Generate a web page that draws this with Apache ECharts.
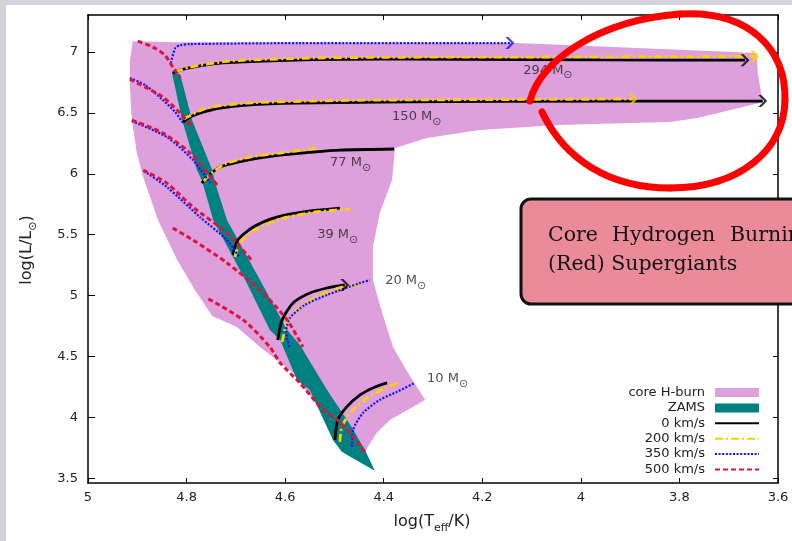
<!DOCTYPE html>
<html><head><meta charset="utf-8">
<script src="https://cdn.jsdelivr.net/npm/echarts@6/dist/echarts.min.js"></script>
<style>html,body{margin:0;padding:0;background:#fff}#c{width:792px;height:541px}</style>
</head><body><div id="c"></div>
<script>
// ---- ticks ----
const xTickValues = [3.6, 3.8, 4.0, 4.2, 4.4, 4.6, 4.8, 5.0];
const yTickValues = [3.5, 4, 4.5, 5, 5.5, 6, 6.5, 7];
const legendNames = ['core H-burn', 'ZAMS', '0 km/s', '200 km/s', '350 km/s', '500 km/s'];
const masses = ['294', '150', '77', '39', '20', '10'];

// ---- regions [logTeff, logL] ----
const coreHBurn = [[4.909,7.090],[4.823,7.082],[4.130,7.074],[3.643,6.992],[3.641,6.828],[3.631,6.589],[3.764,6.458],[3.819,6.425],[4.048,6.401],[4.205,6.360],[4.312,6.294],[4.377,6.212],[4.383,5.949],[4.408,5.678],[4.422,5.399],[4.422,5.128],[4.403,4.857],[4.381,4.578],[4.351,4.365],[4.316,4.143],[4.341,4.085],[4.387,3.979],[4.414,3.872],[4.432,3.757],[4.438,3.716],[4.489,3.814],[4.544,4.143],[4.584,4.365],[4.651,4.578],[4.698,4.742],[4.748,4.833],[4.783,5.046],[4.819,5.292],[4.858,5.621],[4.888,5.974],[4.901,6.171],[4.911,6.442],[4.915,6.713],[4.915,6.934]];
const zams = [[4.830,6.836],[4.809,6.442],[4.779,6.031],[4.769,5.949],[4.746,5.621],[4.681,5.128],[4.631,4.718],[4.610,4.635],[4.576,4.307],[4.550,4.225],[4.503,3.814],[4.485,3.716],[4.468,3.675],[4.418,3.560],[4.438,3.732],[4.468,3.938],[4.515,4.225],[4.570,4.594],[4.596,4.718],[4.651,5.128],[4.718,5.621],[4.742,5.924],[4.748,6.031],[4.789,6.442],[4.813,6.819]];

// ---- tracks: v<rotation>_m<mass> ----
const v0_m294 = [[4.828,6.828],[4.813,6.852],[4.787,6.877],[4.732,6.910],[4.645,6.926],[4.544,6.938],[4.408,6.943],[4.266,6.940],[3.961,6.936],[3.667,6.934]];
const v200_m294 = [[4.823,6.836],[4.793,6.877],[4.712,6.926],[4.544,6.951],[4.408,6.957],[4.063,6.960],[3.647,6.965]];
const v350_m294 = [[4.832,6.910],[4.823,7.033],[4.813,7.057],[4.793,7.066],[4.570,7.074],[4.144,7.074]];
const v500_m294 = [[4.899,7.090],[4.868,7.041],[4.844,6.975],[4.828,6.877],[4.813,6.787]];

const v0_m150 = [[4.807,6.425],[4.793,6.466],[4.773,6.499],[4.732,6.540],[4.677,6.565],[4.576,6.581],[4.408,6.589],[4.164,6.595],[3.631,6.598]];
const v200_m150 = [[4.805,6.450],[4.799,6.466],[4.759,6.540],[4.677,6.581],[4.544,6.598],[4.408,6.606],[3.894,6.614]];
const v350_m150 = [[4.915,6.787],[4.884,6.729],[4.848,6.606],[4.823,6.507],[4.807,6.417]];
const v500_m150 = [[4.915,6.778],[4.880,6.704],[4.848,6.631],[4.813,6.499],[4.787,6.376]];

const v0_m77 = [[4.769,5.924],[4.759,5.974],[4.732,6.056],[4.677,6.113],[4.610,6.154],[4.544,6.179],[4.489,6.195],[4.379,6.204]];
const v200_m77 = [[4.765,5.941],[4.752,5.998],[4.722,6.080],[4.671,6.138],[4.610,6.171],[4.537,6.212]];
const v350_m77 = [[4.911,6.433],[4.840,6.302],[4.787,6.113],[4.752,5.924]];
const v500_m77 = [[4.911,6.442],[4.848,6.335],[4.793,6.171],[4.738,5.908]];

const v0_m39 = [[4.706,5.333],[4.696,5.456],[4.665,5.563],[4.617,5.645],[4.550,5.695],[4.489,5.719]];
const v200_m39 = [[4.702,5.317],[4.692,5.432],[4.661,5.539],[4.610,5.629],[4.539,5.687],[4.468,5.711]];
const v350_m39 = [[4.886,6.023],[4.840,5.892],[4.773,5.645],[4.718,5.456],[4.692,5.309]];
const v500_m39 = [[4.888,6.031],[4.840,5.924],[4.787,5.727],[4.718,5.514],[4.665,5.276]];

const v0_m20 = [[4.615,4.635],[4.606,4.800],[4.584,4.939],[4.550,5.021],[4.515,5.062],[4.479,5.087]];
const v200_m20 = [[4.606,4.619],[4.596,4.775],[4.570,4.906],[4.529,5.005],[4.483,5.071],[4.448,5.087]];
const v350_m20 = [[4.592,4.578],[4.598,4.701],[4.590,4.816],[4.560,4.923],[4.515,5.005],[4.448,5.103],[4.428,5.128]];
const v500_m20 = [[4.828,5.555],[4.787,5.456],[4.718,5.268],[4.651,5.046],[4.596,4.800],[4.564,4.578]];

const v0_m10 = [[4.499,3.814],[4.493,3.979],[4.475,4.085],[4.448,4.184],[4.422,4.241],[4.393,4.282]];
const v200_m10 = [[4.489,3.798],[4.485,3.921],[4.468,4.036],[4.434,4.159],[4.401,4.233],[4.371,4.282]];
const v350_m10 = [[4.464,3.757],[4.462,3.897],[4.442,4.036],[4.408,4.143],[4.373,4.209],[4.337,4.282]];
const v500_m10 = [[4.438,3.716],[4.489,3.962],[4.523,4.061],[4.570,4.282],[4.610,4.446],[4.631,4.578],[4.685,4.800],[4.759,4.980]];

// label anchors (left-middle of each mass label)
const massLabelX = [4.117, 4.383, 4.509, 4.535, 4.397, 4.312];
const massLabelY = [6.852, 6.466, 6.089, 5.498, 5.120, 4.315];

// ---- build ----
const styles = {
  '0 km/s':   {color:'#000000', width:2.8, type:'solid'},
  '200 km/s': {color:'#ffd000', width:2.8, type:[8,3,2,3]},
  '350 km/s': {color:'#1010ff', width:2.2, type:[2,1.6]},
  '500 km/s': {color:'#dc143c', width:3, type:[5,3]}
};
const tracks = {
  '0 km/s':   [v0_m294, v0_m150, v0_m77, v0_m39, v0_m20, v0_m10],
  '200 km/s': [v200_m294, v200_m150, v200_m77, v200_m39, v200_m20, v200_m10],
  '350 km/s': [v350_m294, v350_m150, v350_m77, v350_m39, v350_m20, v350_m10],
  '500 km/s': [v500_m294, v500_m150, v500_m77, v500_m39, v500_m20, v500_m10]
};
const arrowTracks = [[v0_m294,'0 km/s'],[v200_m294,'200 km/s'],[v350_m294,'350 km/s'],[v0_m150,'0 km/s'],[v200_m150,'200 km/s'],[v0_m20,'0 km/s']];

function polySeries(name, pts, color, z) {
  return {
    type:'custom', name:name, z:z, clip:true, silent:true,
    itemStyle:{color:color},
    data: pts,
    renderItem: function(params, api) {
      if (params.dataIndex !== 0) return null;
      return {type:'polygon', shape:{points: pts.map(p => api.coord(p))}, style:{fill:color}};
    }
  };
}

const series = [];
series.push(polySeries('core H-burn', coreHBurn, '#dda0dc', 1));
series.push(polySeries('ZAMS', zams, '#008080', 2));
Object.keys(tracks).forEach((v, vi) => {
  tracks[v].forEach(arr => {
    series.push({
      type:'line', name:v, data:arr, symbol:'none', smooth:0.25, z:3+vi, silent:true,
      lineStyle:{color:styles[v].color, width:styles[v].width, type:styles[v].type, cap:'butt'},
      itemStyle:{color:styles[v].color}
    });
  });
});
const chevron = 'path://M0,0 L4,0 L12,7 L4,14 L0,14 L8,7 Z';
arrowTracks.forEach(([arr, v]) => {
  series.push({
    type:'scatter', name:'arrow', z:8, silent:true,
    data:[arr[arr.length-1]], symbol:chevron, symbolSize:[9,12],
    itemStyle:{color:styles[v].color}
  });
});
series.push({
  type:'scatter', name:'labels', z:9, silent:true, symbolSize:0,
  data: masses.map((m,i) => [massLabelX[i], massLabelY[i], m]),
  label:{
    show:true, position:'right', distance:0,
    formatter: p => '{n|' + p.value[2] + ' M}{s|\u2299}',
    rich:{
      n:{fontSize:13, fontFamily:'DejaVu Sans', color:'#222', lineHeight:22, verticalAlign:'middle'},
      s:{fontSize:11, fontFamily:'DejaVu Sans', color:'#222', verticalAlign:'bottom'}
    }
  }
});

const axisFont = {fontSize:13, fontFamily:'DejaVu Sans', color:'#222'};
const lineBlack = {color:'#000', width:1.5};
const ellipse = [
  [530,101, 540,60, 600,20, 680,14],
  [680,14, 750,10, 786,50, 785,100],
  [785,100, 784,150, 740,188, 670,188],
  [670,188, 610,188, 565,160, 542,112]
].map(c => ({type:'bezierCurve', z:102, silent:true,
  shape:{x1:c[0], y1:c[1], cpx1:c[2], cpy1:c[3], cpx2:c[4], cpy2:c[5], x2:c[6], y2:c[7]},
  style:{fill:null, stroke:'#ff0000', lineWidth:7, lineCap:'round'}}));

const noSym = {opacity:0};
const option = {
  backgroundColor:'#ffffff',
  animation:false,
  grid:{left:88, right:14, top:15, bottom:58},
  xAxis:[
    {type:'value', min:3.6, max:5, interval:0.2, inverse:true, position:'bottom',
     axisLine:{onZero:false, lineStyle:lineBlack},
     axisTick:{inside:true, length:5, lineStyle:{color:'#000'}},
     axisLabel:Object.assign({margin:8, showMinLabel:true, showMaxLabel:true,
       formatter: v => String(Math.round(v*10)/10)}, axisFont),
     splitLine:{show:false}},
    {type:'value', min:3.6, max:5, interval:0.2, inverse:true, position:'top',
     axisLine:{onZero:false, lineStyle:lineBlack},
     axisTick:{inside:true, length:5, lineStyle:{color:'#000'}},
     axisLabel:{show:false}, splitLine:{show:false}}
  ],
  yAxis:[
    {type:'value', min:3.46, max:7.305, position:'left',
     axisLine:{onZero:false, lineStyle:lineBlack},
     axisTick:{inside:true, length:7, customValues:yTickValues, lineStyle:{color:'#000'}},
     axisLabel:Object.assign({margin:10, customValues:yTickValues}, axisFont),
     splitLine:{show:false}},
    {type:'value', min:3.46, max:7.305, position:'right',
     axisLine:{onZero:false, lineStyle:lineBlack},
     axisTick:{inside:true, length:5, customValues:yTickValues, lineStyle:{color:'#000'}},
     axisLabel:{show:false}, splitLine:{show:false}}
  ],
  legend:{
    orient:'vertical', right:27, top:381, align:'right', selectedMode:false,
    itemWidth:44, itemHeight:9, itemGap:2.4,
    textStyle:{fontSize:13, fontFamily:'DejaVu Sans', color:'#222', lineHeight:13, padding:[0,5,0,0]},
    data:[
      {name:'core H-burn', icon:'rect'},
      {name:'ZAMS', icon:'rect'},
      {name:'0 km/s', itemStyle:noSym}, {name:'200 km/s', itemStyle:noSym},
      {name:'350 km/s', itemStyle:noSym}, {name:'500 km/s', itemStyle:noSym}
    ]
  },
  series: series,
  graphic:[
    {type:'rect', z:-1, silent:true, shape:{x:0,y:0,width:6,height:541}, style:{fill:'#d2d3dc'}},
    {type:'rect', z:-1, silent:true, shape:{x:0,y:0,width:792,height:5}, style:{fill:'#d2d3dc'}},
    {type:'text', x:27, y:250, rotation:Math.PI/2, silent:true,
     style:{text:'{n|log(L/L}{s|\u2299}{n|)}', align:'center', verticalAlign:'middle',
       rich:{n:{fontSize:16, fontFamily:'DejaVu Sans', fill:'#222', lineHeight:24, verticalAlign:'middle'},
             s:{fontSize:11, fontFamily:'DejaVu Sans', fill:'#222', verticalAlign:'bottom'}}}},
    {type:'text', x:432, y:522, silent:true,
     style:{text:'{n|log(T}{s|eff}{n|/K)}', align:'center', verticalAlign:'middle',
       rich:{n:{fontSize:16, fontFamily:'DejaVu Sans', fill:'#222', lineHeight:24, verticalAlign:'middle'},
             s:{fontSize:11, fontFamily:'DejaVu Sans', fill:'#222', verticalAlign:'bottom'}}}},
    {type:'rect', z:100, silent:true, shape:{x:521, y:199, width:300, height:105, r:10},
     style:{fill:'#eb8a99', stroke:'#111', lineWidth:3}},
    {type:'text', z:101, silent:true, x:548, y:236, style:{text:'Core', font:'20.5px "DejaVu Serif"', fill:'#111', verticalAlign:'middle'}},
    {type:'text', z:101, silent:true, x:612, y:236, style:{text:'Hydrogen', font:'20.5px "DejaVu Serif"', fill:'#111', verticalAlign:'middle'}},
    {type:'text', z:101, silent:true, x:730, y:236, style:{text:'Burning', font:'20.5px "DejaVu Serif"', fill:'#111', verticalAlign:'middle'}},
    {type:'text', z:101, silent:true, x:548, y:265, style:{text:'(Red) Supergiants', font:'20.5px "DejaVu Serif"', fill:'#111', verticalAlign:'middle'}}
  ].concat(ellipse)
};
const chart = echarts.init(document.getElementById('c'), null, {renderer:'canvas'});
chart.setOption(option);
</script>
</body></html>
